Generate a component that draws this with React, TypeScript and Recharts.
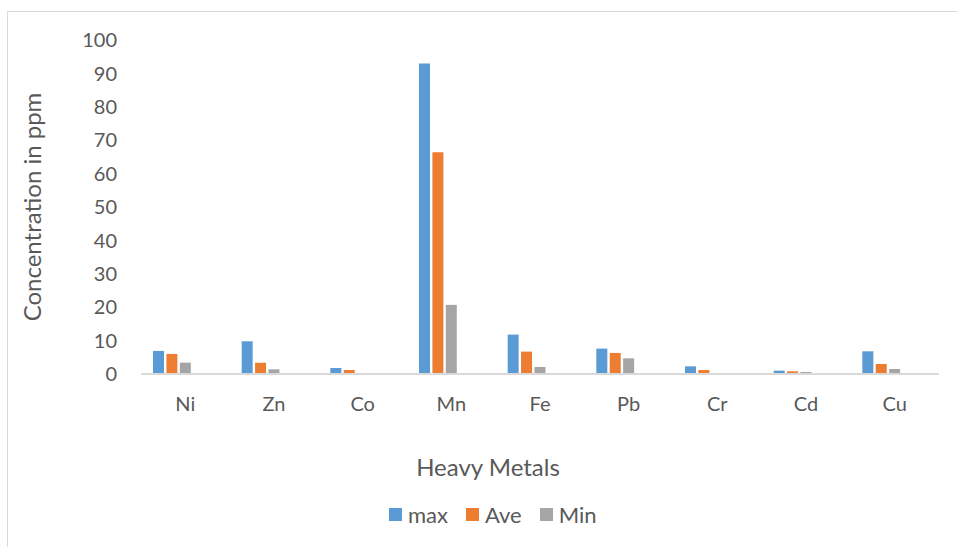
import { Bar, BarChart, XAxis, YAxis } from "recharts";

const CATEGORIES = ["Ni", "Zn", "Co", "Mn", "Fe", "Pb", "Cr", "Cd", "Cu"];
const MAX_VALUES = [6.9, 9.8, 1.8, 93.0, 11.8, 7.6, 2.3, 1.0, 6.8];
const AVE_VALUES = [6.0, 3.4, 1.2, 66.4, 6.7, 6.3, 1.2, 0.8, 3.0];
const MIN_VALUES = [3.4, 1.4, 0.2, 20.7, 2.1, 4.7, 0.05, 0.6, 1.5];
const Y_TICKS = [0, 10, 20, 30, 40, 50, 60, 70, 80, 90, 100];

const SERIES = [
  { key: "max", name: "max", color: "#5B9BD5" },
  { key: "ave", name: "Ave", color: "#ED7D31" },
  { key: "min", name: "Min", color: "#A5A5A5" },
];

const FONT = "Lato, 'Open Sans', sans-serif";
const TEXT = "#595959";

// the source sheet had two more (empty) series, which is why the groups sit left of the labels
const data = CATEGORIES.map((c, i) => ({
  metal: c,
  max: MAX_VALUES[i],
  ave: AVE_VALUES[i],
  min: MIN_VALUES[i],
  emptyA: null,
  emptyB: null,
}));

function YTitle(props: any) {
  const vb = props.viewBox ?? {};
  const x = vb.x + 23;
  const y = vb.y + vb.height / 2;
  return (
    <text
      x={x}
      y={y}
      transform={`rotate(-90, ${x}, ${y})`}
      textAnchor="middle"
      dominantBaseline="central"
      fill={TEXT}
      fontSize={24}
      fontFamily={FONT}
    >
      Concentration in ppm
    </text>
  );
}

export default function App() {
  return (
    <div
      style={{
        position: "absolute",
        left: 0,
        top: 0,
        width: 957,
        height: 547,
        background: "#fff",
        fontFamily: FONT,
        overflow: "hidden",
      }}
    >
      {/* chart frame (left + top edges only visible) */}
      <div
        style={{
          position: "absolute",
          left: 7,
          top: 11,
          width: 960,
          height: 540,
          borderLeft: "1px solid #d9d9d9",
          borderTop: "1px solid #d9d9d9",
        }}
      />
      <div style={{ position: "absolute", left: 0, top: 0 }}>
        <BarChart
          width={957}
          height={547}
          data={data}
          margin={{ top: 40, right: 18, left: 8, bottom: 0 }}
          barSize={11}
          barGap={2.4}
        >
          <XAxis
            dataKey="metal"
            height={173}
            tickLine={false}
            tickSize={0}
            tickMargin={23}
            axisLine={{ stroke: "#d9d9d9", strokeWidth: 2 }}
            tick={{ fill: TEXT, fontSize: 20, fontFamily: FONT }}
            label={{
              value: "Heavy Metals",
              position: "insideBottom",
              offset: 71,
              dx: -52,
              fill: TEXT,
              fontSize: 24,
              fontFamily: FONT,
            }}
          />
          <YAxis
            width={133}
            domain={[0, 100]}
            ticks={Y_TICKS}
            interval={0}
            axisLine={false}
            tickLine={false}
            tickSize={0}
            tickMargin={24}
            tick={{ fill: TEXT, fontSize: 20, fontFamily: FONT }}
            label={<YTitle />}
          />
          {SERIES.map((s) => (
            <Bar
              key={s.key}
              dataKey={s.key}
              name={s.name}
              fill={s.color}
              isAnimationActive={false}
            />
          ))}
          <Bar dataKey="emptyA" fill="#FFC000" isAnimationActive={false} />
          <Bar dataKey="emptyB" fill="#4472C4" isAnimationActive={false} />
        </BarChart>
      </div>
      {/* legend */}
      <div
        style={{
          position: "absolute",
          top: 501,
          left: 389,
          display: "flex",
          alignItems: "center",
          gap: 18,
          fontSize: 22,
          color: TEXT,
        }}
      >
        {SERIES.map((s) => (
          <div key={s.key} style={{ display: "flex", alignItems: "center", gap: 6 }}>
            <span style={{ display: "inline-block", width: 13, height: 13, background: s.color }} />
            <span>{s.name}</span>
          </div>
        ))}
      </div>
    </div>
  );
}
